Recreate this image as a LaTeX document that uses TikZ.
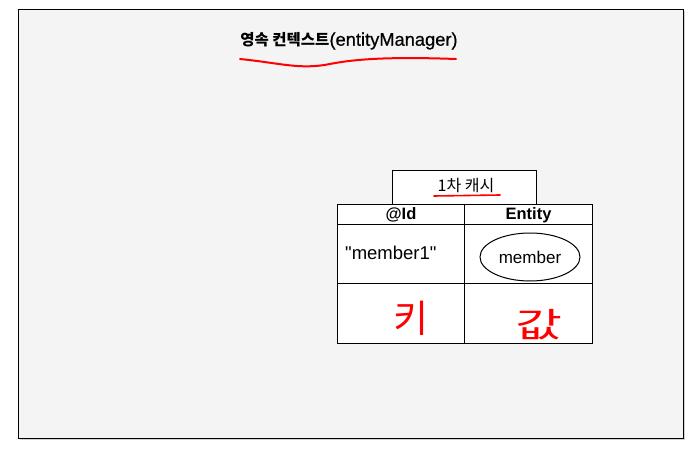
\documentclass[tikz,border=0pt]{standalone}
\usepackage{fontspec}
\setmainfont{Liberation Sans}[Ligatures=TeXOff]
\newfontfamily\kr{Noto Sans CJK KR}
\usetikzlibrary{shadows,shapes.geometric}
\definecolor{paper}{HTML}{F4F4F4}
\definecolor{pen}{HTML}{FF0000}
\begin{document}
\begin{tikzpicture}[x=1pt,y=-1pt,
  cell/.style={draw=black,line width=1pt,fill=white,anchor=north west,inner sep=0pt},
  redline/.style={draw=pen,line width=2pt,line cap=round},
  hand/.style={text=pen,font=\kr\fontsize{38}{38}\selectfont}]
\useasboundingbox (0,0) rectangle (700,454);
\node[draw=black,line width=1.3pt,fill=paper,anchor=north west,minimum width=665pt,minimum height=429pt,inner sep=0pt,
  drop shadow={shadow xshift=1.5pt,shadow yshift=-1.5pt,opacity=0.35}] (frame) at (18,9) {};
\node[inner sep=0pt] (title) at (349,41) {{\kr\bfseries\fontsize{15.5}{18}\selectfont 영속 컨텍스트}{\fontsize{18.3}{20}\selectfont\addfontfeature{FakeBold=0.6}(entityManager)}};
\coordinate (u1) at (240,59);
\coordinate (u2) at (456,59);
\draw[redline] (u1) .. controls (280,63) and (300,70) .. (330,64) .. controls (360,58) and (400,57) .. (u2);
% cache title
\node[cell,minimum width=144pt,minimum height=34pt] (cachebox) at (392,170) {};
\node[font=\kr\fontsize{16}{18}\selectfont] (cachetxt) at (466,186) {1차 캐시};
\coordinate (c1) at (434,196);
\coordinate (c2) at (500,195);
\draw[redline,line width=1.6pt] (c1) -- (c2);
% table
\node[cell,minimum width=127pt,minimum height=20pt] (h1) at (337,204) {};
\node[cell,minimum width=128pt,minimum height=20pt] (h2) at (464,204) {};
\node[cell,minimum width=127pt,minimum height=59pt] (r1) at (337,224) {};
\node[cell,minimum width=128pt,minimum height=59pt] (r2) at (464,224) {};
\node[cell,minimum width=127pt,minimum height=60pt] (s1) at (337,283) {};
\node[cell,minimum width=128pt,minimum height=60pt] (s2) at (464,283) {};
\node[font=\bfseries\fontsize{16.5}{18}\selectfont] at ([yshift=-0.5pt]h1.center) {@Id};
\node[font=\bfseries\fontsize{16.5}{18}\selectfont] at ([yshift=-0.5pt]h2.center) {Entity};
\node[font=\fontsize{18.5}{20}\selectfont,anchor=west,inner sep=0pt] (idval) at (345,253) {"member1"};
\node[ellipse,draw=black,line width=1pt,minimum width=100pt,minimum height=48pt,inner sep=0pt,font=\fontsize{17}{19}\selectfont] (ent) at (530,257) {member};
\node[hand] (key) at (411,318) {키};
\node[hand,xscale=1.5,font=\kr\fontsize{34}{34}\selectfont] (val) at (539,325) {값};
\end{tikzpicture}
\end{document}
